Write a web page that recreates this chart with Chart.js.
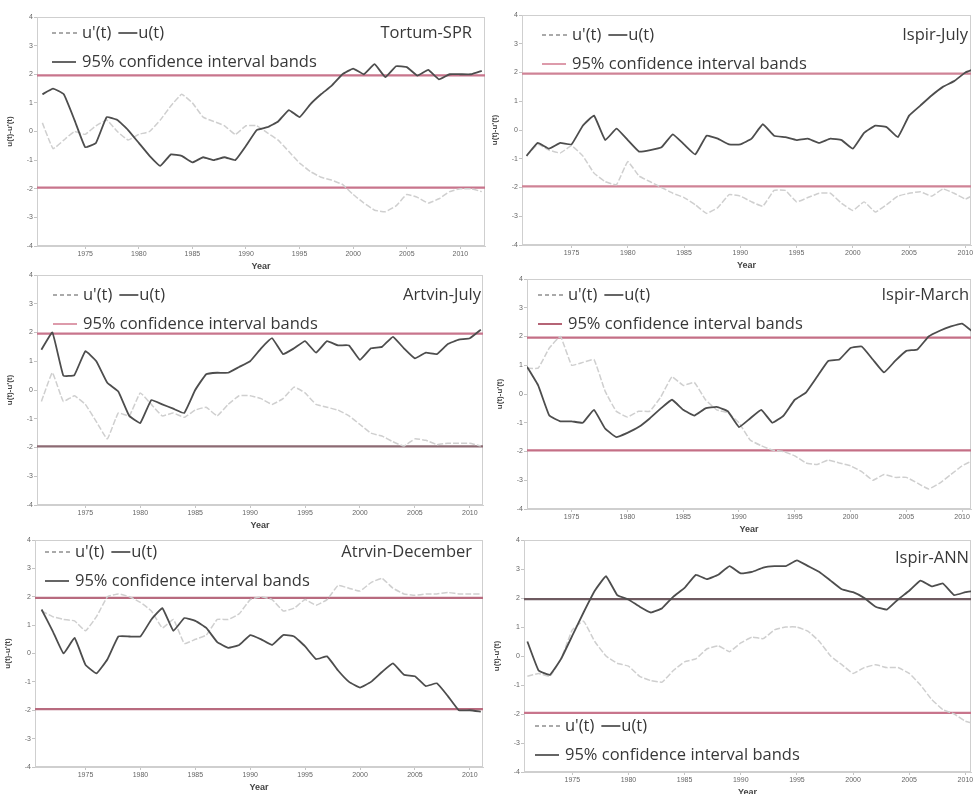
<!DOCTYPE html>
<html>
<head>
<meta charset="utf-8">
<script src="https://cdn.jsdelivr.net/npm/chart.js@4.4.1/dist/chart.umd.min.js"></script>
<style>
  html, body { margin: 0; padding: 0; background: #fff; width: 973px; height: 794px; overflow: hidden; }
  canvas { position: absolute; }
</style>
</head>
<body>
<canvas id="p0"></canvas>
<canvas id="p1"></canvas>
<canvas id="p2"></canvas>
<canvas id="p3"></canvas>
<canvas id="p4"></canvas>
<canvas id="p5"></canvas>
<script>
// Sequential Mann-Kendall statistics, u(t) forward and u'(t) backward
const years = [];
for (let y = 1971; y <= 2012; y++) years.push(y);

const tortumSprU  = [1.3, 1.5, 1.3, 0.4, -0.55, -0.4, 0.5, 0.4, 0.05, -0.4, -0.85, -1.2, -0.8, -0.85, -1.08, -0.9, -1.0, -0.9, -1.0, -0.5, 0.05, 0.15, 0.35, 0.75, 0.5, 0.95, 1.3, 1.6, 2.0, 2.2, 2.0, 2.35, 1.9, 2.28, 2.25, 1.95, 2.15, 1.82, 2.0, 2.0, 2.0, 2.12];
const tortumSprUp = [0.3, -0.6, -0.3, 0.0, -0.1, 0.2, 0.4, 0.0, -0.3, -0.1, 0.0, 0.4, 0.9, 1.3, 1.0, 0.5, 0.35, 0.2, -0.1, 0.2, 0.2, -0.05, -0.3, -0.7, -1.1, -1.4, -1.6, -1.7, -1.85, -2.2, -2.5, -2.75, -2.8, -2.6, -2.2, -2.3, -2.5, -2.35, -2.1, -2.0, -2.0, -2.1];

const ispirJulyU  = [-0.9, -0.45, -0.65, -0.45, -0.5, 0.15, 0.5, -0.35, 0.05, -0.35, -0.75, -0.7, -0.6, -0.15, -0.5, -0.85, -0.2, -0.3, -0.5, -0.5, -0.3, 0.2, -0.2, -0.25, -0.35, -0.3, -0.45, -0.3, -0.35, -0.65, -0.1, 0.15, 0.1, -0.25, 0.5, 0.85, 1.2, 1.5, 1.7, 2.0, 2.15];
const ispirJulyUp = [-0.9, -0.5, -0.7, -0.8, -0.55, -0.9, -1.5, -1.8, -1.9, -1.1, -1.6, -1.8, -2.0, -2.2, -2.35, -2.6, -2.9, -2.7, -2.25, -2.3, -2.5, -2.65, -2.1, -2.1, -2.5, -2.35, -2.2, -2.2, -2.55, -2.8, -2.5, -2.85, -2.6, -2.3, -2.2, -2.15, -2.3, -2.05, -2.2, -2.4, -2.2];

const artvinJulyU  = [1.4, 2.0, 0.5, 0.52, 1.35, 1.0, 0.25, -0.05, -0.9, -1.15, -0.35, -0.5, -0.65, -0.8, 0.0, 0.55, 0.6, 0.6, 0.8, 1.0, 1.45, 1.8, 1.25, 1.45, 1.7, 1.3, 1.7, 1.55, 1.55, 1.05, 1.45, 1.5, 1.85, 1.45, 1.1, 1.3, 1.25, 1.6, 1.75, 1.8, 2.1];
const artvinJulyUp = [-0.4, 0.6, -0.4, -0.2, -0.5, -1.1, -1.7, -0.8, -0.9, -0.1, -0.5, -0.9, -0.8, -0.95, -0.7, -0.6, -0.9, -0.5, -0.2, -0.2, -0.3, -0.5, -0.3, 0.1, -0.1, -0.5, -0.6, -0.7, -0.9, -1.2, -1.5, -1.6, -1.8, -1.95, -1.7, -1.75, -1.9, -1.85, -1.85, -1.85, -1.95];

const ispirMarchU  = [0.95, 0.3, -0.75, -0.95, -0.95, -1.0, -0.55, -1.2, -1.5, -1.35, -1.15, -0.85, -0.5, -0.2, -0.55, -0.75, -0.5, -0.45, -0.6, -1.15, -0.85, -0.55, -1.0, -0.75, -0.2, 0.05, 0.6, 1.15, 1.2, 1.6, 1.65, 1.2, 0.75, 1.15, 1.5, 1.55, 2.0, 2.2, 2.35, 2.45, 2.15];
const ispirMarchUp = [0.9, 0.9, 1.6, 2.0, 1.0, 1.1, 1.2, 0.1, -0.6, -0.8, -0.6, -0.6, -0.1, 0.6, 0.3, 0.4, -0.2, -0.55, -0.65, -1.0, -1.6, -1.8, -1.95, -2.0, -2.15, -2.4, -2.45, -2.3, -2.4, -2.5, -2.7, -3.0, -2.8, -2.9, -2.9, -3.1, -3.3, -3.1, -2.8, -2.5, -2.3];

const atrvinDecU  = [1.55, 0.8, 0.0, 0.55, -0.4, -0.7, -0.2, 0.6, 0.6, 0.6, 1.2, 1.6, 0.8, 1.25, 1.15, 0.9, 0.4, 0.2, 0.3, 0.65, 0.5, 0.3, 0.65, 0.6, 0.25, -0.2, -0.1, -0.6, -1.0, -1.2, -1.0, -0.65, -0.35, -0.75, -0.8, -1.15, -1.05, -1.5, -2.0, -2.0, -2.05];
const atrvinDecUp = [1.5, 1.3, 1.2, 1.15, 0.8, 1.3, 2.0, 2.1, 2.0, 1.8, 1.5, 0.9, 1.2, 0.35, 0.5, 0.65, 1.2, 1.2, 1.4, 1.9, 2.0, 1.9, 1.5, 1.6, 1.9, 1.7, 1.9, 2.4, 2.3, 2.2, 2.5, 2.65, 2.3, 2.1, 2.05, 2.1, 2.1, 2.15, 2.1, 2.1, 2.1];

const ispirAnnU  = [0.5, -0.5, -0.65, -0.1, 0.7, 1.5, 2.25, 2.75, 2.1, 1.95, 1.7, 1.5, 1.65, 2.05, 2.35, 2.8, 2.65, 2.8, 3.1, 2.85, 2.9, 3.05, 3.1, 3.1, 3.3, 3.1, 2.9, 2.6, 2.3, 2.2, 2.0, 1.7, 1.6, 1.95, 2.25, 2.6, 2.4, 2.5, 2.1, 2.2, 2.25];
const ispirAnnUp = [-0.7, -0.6, -0.7, -0.1, 0.9, 1.2, 0.5, 0.0, -0.25, -0.35, -0.7, -0.85, -0.9, -0.5, -0.2, -0.1, 0.25, 0.35, 0.15, 0.45, 0.65, 0.6, 0.9, 1.0, 1.0, 0.85, 0.5, 0.0, -0.3, -0.6, -0.4, -0.3, -0.4, -0.4, -0.6, -1.0, -1.5, -1.85, -2.0, -2.25, -2.35];

const bandLevels = [1.96, -1.96];
const panelTitles = ['Tortum-SPR', 'Ispir-July', 'Artvin-July', 'Ispir-March', 'Atrvin-December', 'Ispir-ANN'];
const seriesU  = [tortumSprU, ispirJulyU, artvinJulyU, ispirMarchU, atrvinDecU, ispirAnnU];
const seriesUp = [tortumSprUp, ispirJulyUp, artvinJulyUp, ispirMarchUp, atrvinDecUp, ispirAnnUp];
const xRanges = [[1970.5, 2012.3], [1970.6, 2010.5], [1970.6, 2011.2], [1971.0, 2010.8], [1970.4, 2011.2], [1970.7, 2010.5]];

// layout: plot area [left, top, right, bottom] in page px
const plotBoxes = [[37, 17, 485, 246], [522, 15, 971, 245], [37, 275, 483, 505], [527, 279, 971, 509], [35, 540, 483, 767], [524, 540, 971, 772]];
// legend: x inset, first row offset (negative = from bottom), band sample colour
const legendPos = [[15, 16, '#4a4a4a'], [20, 20, '#d78a9c'], [16, 20, '#d78a9c'], [11, 16, '#a8485e'], [10, 12, '#4a4a4a'], [11, -46, '#4a4a4a']];
const titlePos = [[13, 16], [3, 20], [2, 20], [2, 16], [11, 12], [2, 18]];
// band colours per panel: [upper, lower]
const bandColors = [['#c8758c', '#c8758c'], ['#cf8396', '#cf8396'], ['#c8758c', '#8c6a73'], ['#c46f86', '#c46f86'], ['#b86b7f', '#b86b7f'], ['#6e5a60', '#c8758c']];

const AX_W = 32, AX_H = 26, PAD_T = 6, PAD_R = 8;
const TXT = '#383838';
const FONT = '"Open Sans", "Noto Sans", sans-serif';

function decorPlugin(i) {
  return {
    id: 'decor' + i,
    beforeDatasetsDraw(chart) {
      const { ctx, chartArea: a, scales: { y } } = chart;
      ctx.save();
      ctx.strokeStyle = '#cfcfcf';
      ctx.lineWidth = 1;
      ctx.strokeRect(a.left + 0.5, a.top + 0.5, a.right - a.left - 1, a.bottom - a.top - 1);
      ctx.lineWidth = 2.4;
      bandLevels.forEach((v, k) => {
        const py = y.getPixelForValue(v);
        ctx.strokeStyle = bandColors[i][k];
        ctx.beginPath();
        ctx.moveTo(a.left, py);
        ctx.lineTo(a.right, py);
        ctx.stroke();
      });
      ctx.restore();
    },
    afterDraw(chart) {
      const { ctx, chartArea: a } = chart;
      const [dx, dy, bandCol] = legendPos[i];
      const x = a.left + dx;
      const y1 = dy >= 0 ? a.top + dy : a.bottom + dy;
      const y2 = y1 + 29;
      ctx.save();
      ctx.font = '16.5px ' + FONT;
      ctx.textBaseline = 'middle';
      ctx.lineWidth = 1.7;
      // row 1: u'(t) dashed, u(t) solid
      ctx.strokeStyle = '#8f8f8f';
      ctx.setLineDash([4, 3]);
      ctx.beginPath(); ctx.moveTo(x, y1); ctx.lineTo(x + 25, y1); ctx.stroke();
      ctx.setLineDash([]);
      ctx.fillStyle = TXT;
      ctx.fillText("u'(t)", x + 30, y1);
      let cx = x + 30 + ctx.measureText("u'(t)").width + 7;
      ctx.strokeStyle = '#4a4a4a';
      ctx.beginPath(); ctx.moveTo(cx, y1); ctx.lineTo(cx + 19, y1); ctx.stroke();
      ctx.fillText('u(t)', cx + 20, y1);
      // row 2: confidence bands
      ctx.strokeStyle = bandCol;
      ctx.beginPath(); ctx.moveTo(x, y2); ctx.lineTo(x + 24, y2); ctx.stroke();
      ctx.fillText('95% confidence interval bands', x + 30, y2);
      // panel title
      const [tr, ty] = titlePos[i];
      ctx.textAlign = 'right';
      ctx.fillText(panelTitles[i], a.right - tr, a.top + ty);
      ctx.restore();
    }
  };
}

panelTitles.forEach((title, i) => {
  const [l, t, r, b] = plotBoxes[i];
  const cv = document.getElementById('p' + i);
  const w = r - l + AX_W + PAD_R, h = b - t + PAD_T + AX_H;
  cv.width = w; cv.height = h;
  cv.style.left = (l - AX_W) + 'px';
  cv.style.top = (t - PAD_T) + 'px';
  cv.style.width = w + 'px';
  cv.style.height = h + 'px';

  const toPts = arr => arr.map((v, k) => ({ x: years[k], y: v }));
  new Chart(cv, {
    type: 'line',
    data: {
      datasets: [
        { label: 'u(t)', data: toPts(seriesU[i]), borderColor: '#4d4d4d', borderWidth: 1.8, tension: 0.1 },
        { label: "u'(t)", data: toPts(seriesUp[i]), borderColor: '#cfcfcf', borderWidth: 1.5, borderDash: [6, 2], tension: 0.1 }
      ]
    },
    options: {
      responsive: false,
      animation: false,
      layout: { padding: { top: PAD_T, right: PAD_R, left: 0, bottom: 0 } },
      elements: { point: { radius: 0 } },
      datasets: { line: { clip: 0 } },
      plugins: { legend: { display: false }, tooltip: { enabled: false } },
      scales: {
        x: {
          type: 'linear',
          min: xRanges[i][0],
          max: xRanges[i][1],
          afterFit: s => { s.height = AX_H; },
          grid: { drawOnChartArea: false, tickLength: 3, color: '#c4c4c4' },
          border: { color: '#cfcfcf' },
          ticks: {
            stepSize: 5, includeBounds: false, autoSkip: false, maxRotation: 0,
            padding: 1, color: '#666', font: { size: 7, family: 'Liberation Sans' },
            callback: v => String(v)
          },
          title: { display: true, text: 'Year', color: '#444', padding: 0, font: { size: 9, weight: 'bold', family: 'Liberation Sans' } }
        },
        y: {
          min: -4, max: 4,
          afterFit: s => { s.width = AX_W; },
          grid: { drawOnChartArea: false, tickLength: 3, color: '#c4c4c4' },
          border: { color: '#cfcfcf' },
          ticks: { stepSize: 1, padding: 1, color: '#666', font: { size: 7, family: 'Liberation Sans' } },
          title: { display: true, text: "u(t)-u'(t)", color: '#444', padding: 0, font: { size: 8, weight: 'bold', family: 'Liberation Sans' } }
        }
      }
    },
    plugins: [decorPlugin(i)]
  });
});
</script>
</body>
</html>
